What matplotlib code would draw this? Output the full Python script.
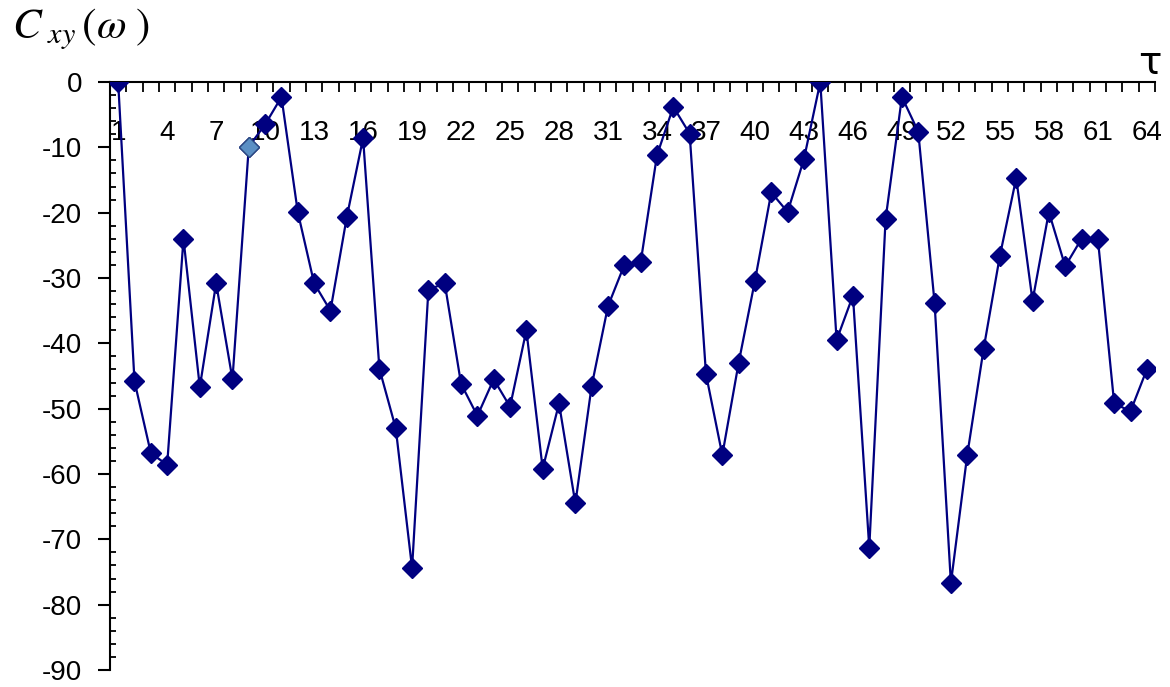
import matplotlib
matplotlib.use("Agg")
import matplotlib.pyplot as plt
from matplotlib.ticker import MultipleLocator

# Datos: tau = 1..64, C_xy en dB
tau = list(range(1, 65))
cxy = [0.0, -45.8, -56.8, -58.6, -24.0, -46.7, -30.8, -45.5, -9.9, -6.5,
       -2.3, -19.9, -30.8, -35.0, -20.7, -8.6, -43.9, -53.0, -74.4, -31.8,
       -30.8, -46.2, -51.1, -45.5, -49.7, -38.0, -59.2, -49.2, -64.5, -46.5,
       -34.3, -28.0, -27.6, -11.2, -3.8, -7.9, -44.7, -57.1, -43.0, -30.4,
       -16.9, -19.9, -11.8, 0.0, -39.5, -32.7, -71.3, -21.0, -2.3, -7.6,
       -33.8, -76.7, -57.1, -40.9, -26.6, -14.7, -33.5, -19.9, -28.2, -24.0,
       -24.0, -49.2, -50.4, -44.0]
punto_resaltado = 9  # punto marcado en azul claro
etiquetas_x = list(range(1, 65, 3))

plt.rcParams["font.family"] = ["Liberation Sans", "DejaVu Sans"]
plt.rcParams["mathtext.fontset"] = "stix"
plt.rcParams["axes.unicode_minus"] = False  # guion simple como en el original

fig = plt.figure(figsize=(11.7, 6.87), dpi=100)
ax = fig.add_axes([110 / 1170, 1 - 670 / 687, (1155 - 110) / 1170, (670 - 82) / 687])

# Serie principal
ax.plot(tau, cxy, color="#000080", linewidth=1.6, marker="D", markersize=10,
        markerfacecolor="#000080", markeredgecolor="#000080", zorder=3)
# Punto resaltado
i = tau.index(punto_resaltado)
ax.plot([tau[i]], [cxy[i]], linestyle="none", marker="D", markersize=10,
        markerfacecolor="#5b8fc4", markeredgecolor="#2a4a80", markeredgewidth=1, zorder=4)

ax.set_xlim(0.5, 64.5)
ax.set_ylim(-90, 0)

# Ejes: línea horizontal en y=0 (arriba) y eje vertical a la izquierda
ax.spines["right"].set_visible(False)
ax.spines["bottom"].set_visible(False)
ax.spines["top"].set_linewidth(1.5)
ax.spines["left"].set_linewidth(1.5)

# Eje X arriba, etiquetas por debajo de la línea
ax.xaxis.tick_top()
ax.set_xticks(etiquetas_x)
ax.set_xticklabels([str(t) for t in etiquetas_x])
ax.set_xticks([t + 0.5 for t in range(0, 65)], minor=True)
ax.tick_params(axis="x", which="major", length=0, pad=-46, labelsize=20)
ax.tick_params(axis="x", which="minor", direction="in", length=7.5, width=1.3)

# Eje Y
ax.yaxis.set_major_locator(MultipleLocator(10))
ax.yaxis.set_minor_locator(MultipleLocator(2))
ax.tick_params(axis="y", which="major", direction="out", length=9, width=1.5,
               pad=11, labelsize=20)
ax.tick_params(axis="y", which="minor", direction="in", length=4, width=1.3)

# Títulos de los ejes
fig.text(12 / 1170, 1 - 38 / 687, r"$C_{\ xy}\,(\omega\ )$", fontsize=31, va="baseline")
fig.text(1150 / 1170, 1 - 74 / 687, "τ", fontsize=28, ha="center", va="baseline",
         family=["DejaVu Sans"])

fig.savefig("out.png", dpi=100)
